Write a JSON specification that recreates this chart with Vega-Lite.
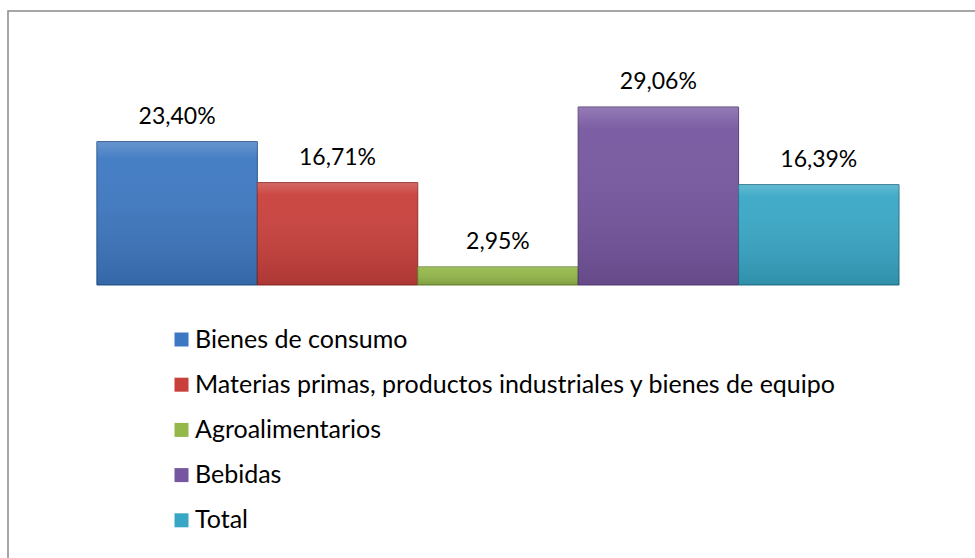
{
  "$schema": "https://vega.github.io/schema/vega-lite/v6.json",
  "width": 970,
  "height": 550,
  "padding": {"left": 8, "top": 11, "right": -3, "bottom": -3},
  "autosize": {"type": "pad"},
  "background": "white",
  "config": {
    "view": {"stroke": "#8a8a8a", "strokeWidth": 1.5},
    "font": "Lato"
  },
  "data": {
    "values": [
      {"categoria": "Bienes de consumo", "valor": 23.40, "etiqueta": "23,40%"},
      {"categoria": "Materias primas, productos industriales y bienes de equipo", "valor": 16.71, "etiqueta": "16,71%"},
      {"categoria": "Agroalimentarios", "valor": 2.95, "etiqueta": "2,95%"},
      {"categoria": "Bebidas", "valor": 29.06, "etiqueta": "29,06%"},
      {"categoria": "Total", "valor": 16.39, "etiqueta": "16,39%"}
    ]
  },
  "encoding": {
    "x": {
      "field": "categoria",
      "type": "nominal",
      "sort": null,
      "axis": null,
      "scale": {"paddingInner": 0, "paddingOuter": 0.5233, "align": 0.5295}
    },
    "y": {
      "field": "valor",
      "type": "quantitative",
      "axis": null,
      "scale": {"domain": [-45.06, 44.73], "nice": false, "zero": false}
    }
  },
  "layer": [
    {
      "mark": {"type": "bar", "strokeWidth": 1},
      "encoding": {
        "color": {
          "field": "categoria",
          "type": "nominal",
          "sort": null,
          "scale": {
            "domain": ["Bienes de consumo", "Materias primas, productos industriales y bienes de equipo", "Agroalimentarios", "Bebidas", "Total"],
            "range": ["#3d78c2", "#c93f3b", "#94b84a", "#7656a0", "#38a7c6"]
          },
          "legend": {
            "orient": "none",
            "legendX": 161,
            "legendY": 316,
            "title": null,
            "padding": 0,
            "symbolType": "square",
            "symbolSize": 196,
            "symbolStrokeWidth": 0,
            "labelFontSize": 25,
            "labelFont": "Lato",
            "labelColor": "#000000",
            "labelOffset": 1,
            "labelLimit": 900,
            "rowPadding": 19.2
          }
        },
        "stroke": {
          "field": "categoria",
          "type": "nominal",
          "sort": null,
          "scale": {
            "domain": ["Bienes de consumo", "Materias primas, productos industriales y bienes de equipo", "Agroalimentarios", "Bebidas", "Total"],
            "range": ["#24528a", "#8c2a27", "#68842e", "#523a73", "#236f86"]
          },
          "legend": null
        },
        "y2": {"datum": 0}
      }
    },
    {
      "mark": {
        "type": "bar",
        "fill": {
          "gradient": "linear",
          "x1": 0, "y1": 0, "x2": 0, "y2": 1,
          "stops": [
            {"offset": 0, "color": "rgba(255,255,255,0.22)"},
            {"offset": 0.12, "color": "rgba(255,255,255,0.05)"},
            {"offset": 1, "color": "rgba(0,0,0,0.14)"}
          ]
        }
      },
      "encoding": {"y2": {"datum": 0}}
    },
    {
      "mark": {"type": "text", "baseline": "alphabetic", "dy": -18, "fontSize": 23, "color": "#000000"},
      "encoding": {"text": {"field": "etiqueta"}}
    }
  ]
}
